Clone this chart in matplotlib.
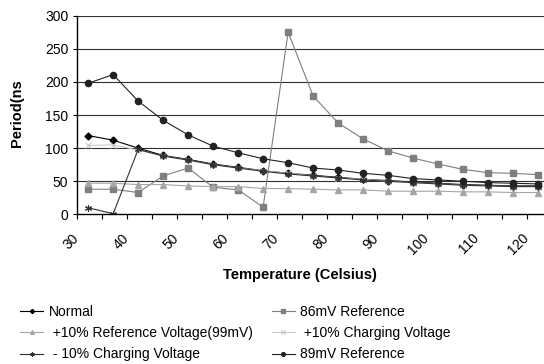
import matplotlib
matplotlib.use("Agg")
import matplotlib.pyplot as plt

plt.rcParams['font.family'] = ['Liberation Sans', 'DejaVu Sans']

# temperature (Celsius) of each measurement
temps = [32.3, 37.3, 42.3, 47.3, 52.3, 57.3, 62.3, 67.3, 72.3, 77.3,
         82.3, 87.3, 92.3, 97.3, 102.3, 107.3, 112.3, 117.3, 122.3]

# period (ns) per configuration
normal = [119, 112, 100, 89, 83, 76, 71, 66, 62, 59, 56, 53, 51, 49, 47, 45, 44, 43, 43]
ref_86mv = [38, 38, 33, 58, 70, 41, 37, 11, 275, 179, 138, 114, 96, 85, 76, 68, 63, 62, 60]
ref_99mv = [47, 47, 45, 45, 43, 42, 42, 39, 39, 38, 37, 37, 35, 35, 35, 34, 34, 33, 33]
charge_plus10 = [104, 105, 97, 88, 82, 75, 70, 66, 62, 58, 55, 53, 50, 48, 46, 44, 43, 42, 42]
charge_minus10 = [10, 1, 98, 88, 82, 75, 70, 65, 61, 58, 55, 52, 50, 48, 46, 44, 43, 42, 42]
ref_89mv = [198, 211, 171, 142, 120, 103, 93, 84, 78, 70, 67, 62, 59, 54, 52, 50, 48, 47, 46]

fig = plt.figure(figsize=(5.44, 3.64), dpi=100)
ax = fig.add_axes([0.141, 0.411, 0.859, 0.546])

for y in range(50, 301, 50):
    ax.axhline(y, color='#303030', lw=0.8, zorder=0)

lw = 0.8
h_normal, = ax.plot(temps, normal, color='black', lw=lw, marker='D', ms=3.5,
                    label='Normal')
h_86, = ax.plot(temps, ref_86mv, color='#7f7f7f', lw=lw, marker='s', ms=4,
                label='86mV Reference')
h_99, = ax.plot(temps, ref_99mv, color='#a6a6a6', lw=lw, marker='^', ms=4.5,
                label=' +10% Reference Voltage(99mV)')
h_p10, = ax.plot(temps, charge_plus10, color='#c8c8c8', lw=lw, marker='x', ms=4,
                 mew=0.8, label=' +10% Charging Voltage')
h_m10, = ax.plot(temps, charge_minus10, color='#333333', lw=lw, marker=(6, 2, 0),
                 ms=5, mew=0.8, label=' - 10% Charging Voltage')
h_89, = ax.plot(temps, ref_89mv, color='#222222', lw=lw, marker='o', ms=4.5,
                label='89mV Reference')

ax.set_xlim(30, 123.5)
ax.set_ylim(0, 300)
ax.set_yticks(range(0, 301, 50))
ax.set_xticks(range(30, 121, 10))
ax.set_xticks(range(35, 121, 10), minor=True)

for s in ['top', 'right']:
    ax.spines[s].set_visible(False)
for s in ['left', 'bottom']:
    ax.spines[s].set_linewidth(1.0)
    ax.spines[s].set_color('black')

ax.tick_params(axis='y', labelsize=10, length=3, width=0.8, pad=3)
ax.tick_params(axis='x', which='both', length=3.5, width=0.8)
ax.tick_params(axis='x', which='major', labelsize=10, pad=12)
for lab in ax.get_xticklabels():
    lab.set_rotation(45)
    lab.set_ha('right')
    lab.set_va('center')
    lab.set_rotation_mode('anchor')

ax.set_ylabel('Period(ns', fontsize=10.5, fontweight='bold')
ax.yaxis.set_label_coords(-0.112, 0.51)
ax.set_xlabel('Temperature (Celsius)', fontsize=10.5, fontweight='bold')
ax.xaxis.set_label_coords(0.478, -0.27)

# two legend columns placed side by side
leg_kw = dict(frameon=False, fontsize=10, loc='upper left', handlelength=1.65,
              handletextpad=0.4, labelspacing=0.52, markerscale=0.6,
              borderaxespad=0, borderpad=0)
left_col = [h_normal, h_99, h_m10]
right_col = [h_86, h_p10, h_89]
fig.legend(handles=left_col, labels=[h.get_label() for h in left_col],
           bbox_to_anchor=(0.037, 0.162), **leg_kw)
fig.legend(handles=right_col, labels=[h.get_label() for h in right_col],
           bbox_to_anchor=(0.5, 0.162), **leg_kw)

fig.savefig('out.png', dpi=100)
